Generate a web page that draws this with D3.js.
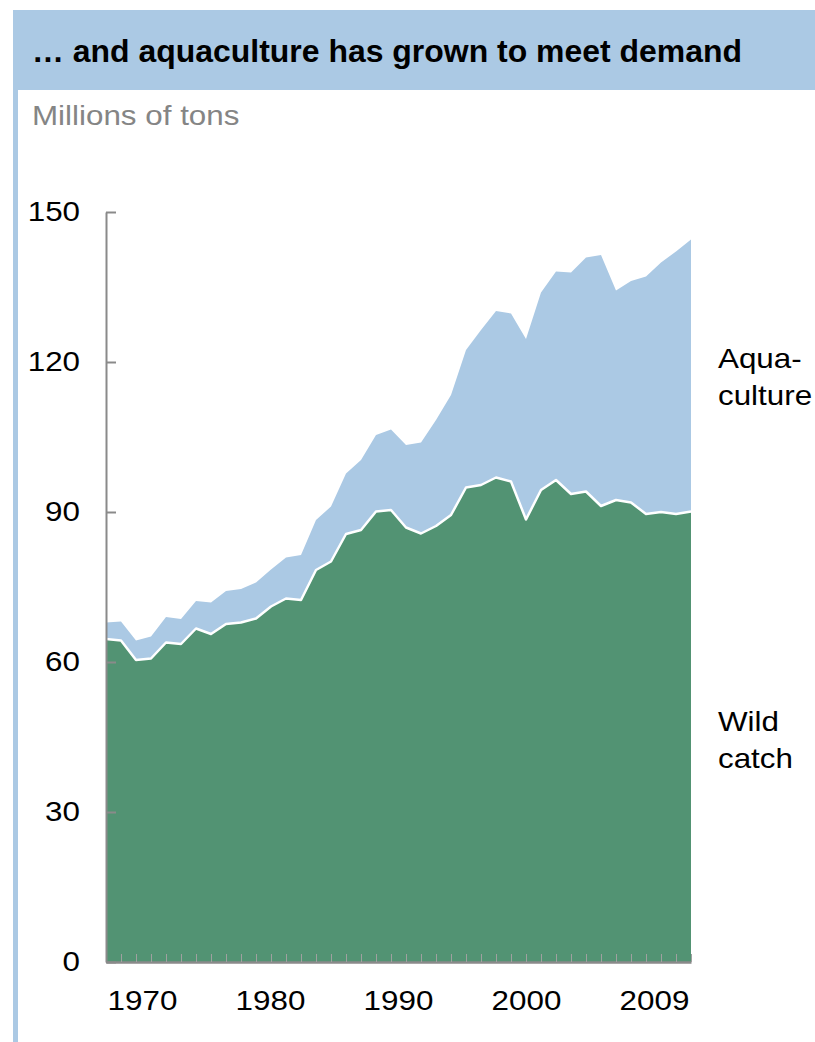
<!DOCTYPE html>
<html>
<head>
<meta charset="utf-8">
<script src="https://cdn.jsdelivr.net/npm/d3@7"></script>
<style>
  html, body { margin: 0; padding: 0; background: #fff; }
  svg { display: block; font-family: "Liberation Sans", Arial, Helvetica, sans-serif; }
</style>
</head>
<body>
<svg id="chart" width="815" height="1042"></svg>
<script>
// World fish production, millions of tons
const years = [1970, 1971, 1972, 1973, 1974, 1975, 1976, 1977, 1978, 1979,
               1980, 1981, 1982, 1983, 1984, 1985, 1986, 1987, 1988, 1989,
               1990, 1991, 1992, 1993, 1994, 1995, 1996, 1997, 1998, 1999,
               2000, 2001, 2002, 2003, 2004, 2005, 2006, 2007, 2008, 2009];

const wildCatch = [64.6, 64.3, 60.4, 60.7, 63.9, 63.6, 66.7, 65.6, 67.6, 67.9,
                   68.7, 71.1, 72.7, 72.4, 78.4, 80.1, 85.6, 86.4, 90.1, 90.4,
                   86.9, 85.7, 87.2, 89.4, 94.9, 95.4, 96.9, 96.1, 88.5, 94.4,
                   96.4, 93.6, 94.1, 91.2, 92.4, 91.9, 89.6, 90.0, 89.6, 90.1];

const aquaculture = [3.3, 3.8, 3.9, 4.4, 5.1, 5.0, 5.5, 6.3, 6.6, 6.7,
                     7.2, 7.4, 8.2, 9.0, 10.0, 11.0, 12.1, 14.0, 15.3, 16.1,
                     16.5, 18.2, 21.2, 24.0, 27.5, 31.0, 33.3, 33.6, 36.1, 39.5,
                     41.7, 44.3, 46.8, 50.2, 41.9, 44.3, 47.5, 49.9, 52.5, 54.4];

const yTicks = [0, 30, 60, 90, 120, 150];
const xTickLabels = ["1970", "1980", "1990", "2000", "2009"];

const title = "\u2026 and aquaculture has grown to meet demand";
const unitLabel = "Millions of tons";

const colors = { wild: "#529373", aqua: "#abc9e4", axis: "#8a8a8a", tick: "#a0a0a0" };

// Body type is set slightly wide
const widen = 1.12;
function stretch(sel) {
  sel.each(function () {
    const len = this.getComputedTextLength();
    if (len > 0) {
      d3.select(this).attr("textLength", len * widen).attr("lengthAdjust", "spacingAndGlyphs");
    }
  });
}

const svg = d3.select("#chart");
const W = 815, H = 1042;
const plot = { left: 106, right: 691, top: 212, bottom: 962 };

// Frame: header band and left rule
svg.append("rect").attr("x", 13).attr("y", 10).attr("width", W - 13).attr("height", 80)
  .attr("fill", colors.aqua);
svg.append("rect").attr("x", 13).attr("y", 90).attr("width", 5).attr("height", H - 90)
  .attr("fill", colors.aqua);

svg.append("text").attr("x", 32).attr("y", 62)
  .attr("font-size", 32).attr("font-weight", "bold").attr("fill", "#000")
  .text(title)
  .attr("textLength", 710).attr("lengthAdjust", "spacingAndGlyphs");

svg.append("text").attr("x", 32).attr("y", 125)
  .attr("font-size", 28).attr("fill", "#858585")
  .text(unitLabel)
  .call(stretch);

// Scales
const x = d3.scaleLinear().domain([years[0], years[years.length - 1]])
  .range([plot.left, plot.right]);
const y = d3.scaleLinear().domain([0, 150]).range([plot.bottom, plot.top]);

const rows = years.map((yr, i) => ({ year: yr, wild: wildCatch[i], aqua: aquaculture[i] }));
const stacked = d3.stack().keys(["wild", "aqua"])(rows);

const area = d3.area()
  .x(d => x(d.data.year))
  .y0(d => y(d[0]))
  .y1(d => y(d[1]));

svg.append("path").datum(stacked[1]).attr("d", area).attr("fill", colors.aqua);
svg.append("path").datum(stacked[0]).attr("d", area).attr("fill", colors.wild);

// White divider along the top of the wild catch
svg.append("path").datum(stacked[0])
  .attr("d", d3.line().x(d => x(d.data.year)).y(d => y(d[1])))
  .attr("fill", "none").attr("stroke", "#fff").attr("stroke-width", 2.5)
  .attr("stroke-linejoin", "round");

// Y axis
const yAxis = svg.append("g").attr("transform", `translate(${plot.left},0)`)
  .call(d3.axisLeft(y).tickValues(yTicks).tickSize(-10).tickSizeOuter(0).tickPadding(26));
yAxis.select(".domain").attr("stroke", colors.axis).attr("stroke-width", 2);
yAxis.selectAll(".tick line").attr("stroke", colors.axis).attr("stroke-width", 2);
yAxis.selectAll(".tick text").attr("font-size", 28).attr("fill", "#000")
  .attr("font-family", "Liberation Sans, Arial, sans-serif")
  .call(stretch);

// X axis: a small tick for every year, labels spread beneath
const xAxis = svg.append("g").attr("transform", `translate(0,${plot.bottom})`)
  .call(d3.axisBottom(x).tickValues(years.slice(1)).tickSize(-8).tickSizeOuter(0).tickFormat(""));
xAxis.select(".domain").attr("stroke", colors.axis).attr("stroke-width", 2.5);
xAxis.selectAll(".tick line").attr("stroke", colors.tick).attr("stroke-width", 1);

const xLabel = d3.scalePoint().domain(xTickLabels).range([plot.left, plot.right]).padding(0.285);
svg.append("g").selectAll("text").data(xTickLabels).join("text")
  .attr("x", d => xLabel(d)).attr("y", 1010)
  .attr("text-anchor", "middle").attr("font-size", 28).attr("fill", "#000")
  .text(d => d)
  .call(stretch);

// Series labels
const seriesLabels = [
  { lines: ["Aqua-", "culture"], y: 368 },
  { lines: ["Wild", "catch"], y: 731 }
];
seriesLabels.forEach(s => {
  const t = svg.append("text").attr("x", 718).attr("y", s.y)
    .attr("font-size", 28).attr("fill", "#000");
  s.lines.forEach((ln, i) => {
    t.append("tspan").attr("x", 718).attr("dy", i === 0 ? 0 : 37).text(ln)
      .call(stretch);
  });
});
</script>
</body>
</html>
